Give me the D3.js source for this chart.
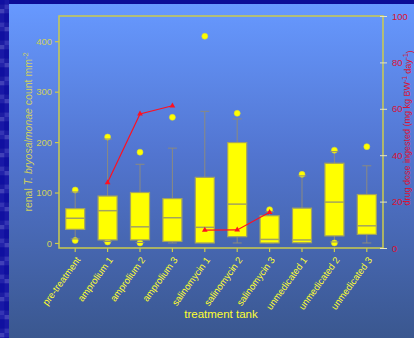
<!DOCTYPE html>
<html><head><meta charset="utf-8">
<script src="https://cdn.jsdelivr.net/npm/d3@7"></script>
<style>
html,body{margin:0;padding:0;background:#0a0a8c;}
svg{display:block;font-family:"Liberation Sans",Arial,sans-serif;}
</style></head>
<body>
<svg id="c" width="414" height="338"></svg>
<script>
// ---- data ----
const categories = ["pre-treatment","amprolium 1","amprolium 2","amprolium 3","salinomycin 1","salinomycin 2","salinomycin 3","unmedicated 1","unmedicated 2","unmedicated 3"];
const q1      = [27, 6, 6, 3, 0, 12.5, 0, 0.5, 14, 17];
const medians = [49, 64, 32, 50, 31, 77, 7, 6, 81, 34];
const q3      = [68, 93, 100, 88, 130, 199, 54, 69, 158, 96];
const whiskLo = [8, 3, 1, 0, 0, 0, 0, 0, 2, 0];
const whiskHi = [101, 206, 156, 188, 261, 246, 62, 133, 181, 153];
const dotsHi  = [105, 210, 180, 249, 410, 257, 66, 136, 184, 191];
const dotsLo  = [5, 2, 0, null, null, null, null, null, 0, null];
const amproliumCats = ["amprolium 1","amprolium 2","amprolium 3"];
const amproliumDose = [28.2, 57.8, 61.3];
const salinomycinCats = ["salinomycin 1","salinomycin 2","salinomycin 3"];
const salinomycinDose = [7.7, 7.8, 15.4];
const leftTicks = [0, 100, 200, 300, 400];
const rightTicks = [0, 20, 40, 60, 80, 100];

// ---- layout ----
const W = 414, H = 338;
const m = {left: 59, top: 16, right: 383, bottom: 248};
const FONT = "Liberation Sans, Arial, sans-serif";
const svg = d3.select("#c");
const defs = svg.append("defs");
const grad = defs.append("linearGradient").attr("id","bg").attr("x1",0).attr("y1",0).attr("x2",0).attr("y2",1);
grad.append("stop").attr("offset","0%").attr("stop-color","#6799ff");
grad.append("stop").attr("offset","45%").attr("stop-color","#5275d0");
grad.append("stop").attr("offset","100%").attr("stop-color","#3a578f");

// outer background with mosaic strips
svg.append("rect").attr("width",W).attr("height",H).attr("fill","#0c0c96");
const mosaicCols = ["#1010a0","#2222aa","#3434b4","#1818a6","#4040b8","#1c1ca4"];
const cell = 4.5;
const leftCells = [];
for (let j = 0; j < Math.ceil(H / cell); j++) for (let i = 0; i < 2; i++) leftCells.push({i, j});
svg.append("g").selectAll("rect").data(leftCells).join("rect")
  .attr("x", d => d.i * cell).attr("y", d => d.j * cell)
  .attr("width", cell + 0.2).attr("height", cell + 0.2)
  .attr("fill", d => mosaicCols[(d.j * 5 + d.i * 3 + (d.j >> 2)) % mosaicCols.length]);
// inner panel
svg.append("rect").attr("x",9).attr("y",4).attr("width",W-9).attr("height",H-4).attr("fill","url(#bg)");

// ---- scales ----
const x = d3.scaleBand().domain(categories).range([m.left, m.right]).padding(0);
const yL = d3.scaleLinear().domain([-10, 450]).range([m.bottom, m.top]);
const yR = d3.scaleLinear().domain([0, 100]).range([m.bottom, m.top]);
const cx = c => x(c) + x.bandwidth() / 2;
const boxW = 19, capW = 9;

const boxes = categories.map((c, i) => ({c, q1: q1[i], med: medians[i], q3: q3[i], lo: whiskLo[i], hi: whiskHi[i], dh: dotsHi[i], dl: dotsLo[i]}));

const g = svg.append("g");
// whiskers
g.selectAll(".wh").data(boxes).join("line").attr("class","wh")
  .attr("x1", d => cx(d.c)).attr("x2", d => cx(d.c))
  .attr("y1", d => yL(d.q3)).attr("y2", d => yL(d.hi))
  .attr("stroke","#8a8a80").attr("stroke-width",1);
g.selectAll(".wl").data(boxes).join("line").attr("class","wl")
  .attr("x1", d => cx(d.c)).attr("x2", d => cx(d.c))
  .attr("y1", d => yL(d.q1)).attr("y2", d => yL(d.lo))
  .attr("stroke","#8a8a80").attr("stroke-width",1);
// dots
const dots = [];
boxes.forEach(d => { if (d.dh != null) dots.push({c: d.c, v: d.dh}); if (d.dl != null) dots.push({c: d.c, v: d.dl}); });
g.selectAll(".dot").data(dots).join("circle").attr("class","dot")
  .attr("cx", d => cx(d.c)).attr("cy", d => yL(d.v)).attr("r", 3)
  .attr("fill","#ffff00").attr("stroke","#d8d830").attr("stroke-width",0.6);
// caps
g.selectAll(".ch").data(boxes).join("line").attr("class","ch")
  .attr("x1", d => cx(d.c) - capW/2).attr("x2", d => cx(d.c) + capW/2)
  .attr("y1", d => yL(d.hi)).attr("y2", d => yL(d.hi))
  .attr("stroke","#8a8a80").attr("stroke-width",1);
g.selectAll(".cl").data(boxes).join("line").attr("class","cl")
  .attr("x1", d => cx(d.c) - capW/2).attr("x2", d => cx(d.c) + capW/2)
  .attr("y1", d => yL(d.lo)).attr("y2", d => yL(d.lo))
  .attr("stroke","#8a8a80").attr("stroke-width",1);
// boxes
g.selectAll(".box").data(boxes).join("rect").attr("class","box")
  .attr("x", d => cx(d.c) - boxW/2).attr("width", boxW)
  .attr("y", d => yL(d.q3)).attr("height", d => yL(d.q1) - yL(d.q3))
  .attr("fill","#ffff00").attr("stroke","#a3a360").attr("stroke-width",1.2);
g.selectAll(".med").data(boxes).join("line").attr("class","med")
  .attr("x1", d => cx(d.c) - boxW/2).attr("x2", d => cx(d.c) + boxW/2)
  .attr("y1", d => yL(d.med)).attr("y2", d => yL(d.med))
  .attr("stroke","#a3a360").attr("stroke-width",1.5);

// dose lines
const doseSeries = [
  amproliumCats.map((c, i) => ({c, v: amproliumDose[i]})),
  salinomycinCats.map((c, i) => ({c, v: salinomycinDose[i]}))
];
const line = d3.line().x(d => cx(d.c)).y(d => yR(d.v));
const tri = d3.symbol().type(d3.symbolTriangle).size(14);
doseSeries.forEach(s => {
  g.append("path").datum(s).attr("d", line).attr("fill","none").attr("stroke","#ff1020").attr("stroke-width",1.2);
  g.selectAll(null).data(s).join("path")
    .attr("transform", d => `translate(${cx(d.c)},${yR(d.v)})`)
    .attr("d", tri).attr("fill","#ff1020");
});

// frame
svg.append("rect").attr("x", m.left).attr("y", m.top).attr("width", m.right - m.left).attr("height", m.bottom - m.top)
  .attr("fill","none").attr("stroke","#cccc4c").attr("stroke-width",1.5);

// left axis
const axL = svg.append("g").attr("transform",`translate(${m.left},0)`)
  .call(d3.axisLeft(yL).tickValues(leftTicks).tickSize(4).tickPadding(3));
axL.select(".domain").remove();
axL.selectAll("line").attr("stroke","#cccc4c").attr("stroke-width",1.2);
axL.selectAll("text").attr("fill","#d0d060").style("font-size","9.5px").style("font-family",FONT);

// right axis
const axR = svg.append("g").attr("transform",`translate(${m.right},0)`)
  .call(d3.axisRight(yR).tickValues(rightTicks).tickSize(4).tickPadding(5));
axR.select(".domain").remove();
axR.selectAll("line").attr("x1",-3).attr("stroke","#e8e8c0").attr("stroke-width",1);
axR.selectAll("text").attr("fill","#dd1133").style("font-size","9.5px").style("font-family",FONT);

// bottom axis
const axB = svg.append("g").attr("transform",`translate(0,${m.bottom})`)
  .call(d3.axisBottom(x).tickSize(4));
axB.select(".domain").remove();
axB.selectAll("line").attr("stroke","#cccc4c").attr("stroke-width",1.2);
axB.selectAll("text").attr("fill","#ffff30").style("font-size","9.5px").style("font-family",FONT)
  .attr("x",0).attr("y",0).attr("dy","0.35em")
  .attr("transform","translate(3,10) rotate(-54)").style("text-anchor","end");

// titles
svg.append("text").attr("x",(m.left+m.right)/2).attr("y",318).attr("text-anchor","middle")
  .attr("fill","#ffff30").style("font-size","11.5px").text("treatment tank");

const lt = svg.append("text").attr("transform",`translate(32,${(m.top+m.bottom)/2}) rotate(-90)`)
  .attr("text-anchor","middle").attr("fill","#d0d060").style("font-size","10.5px");
lt.append("tspan").text("renal ");
lt.append("tspan").style("font-style","italic").text("T. bryosalmonae");
lt.append("tspan").text(" count mm");
lt.append("tspan").attr("dy","-0.5em").style("font-size","7.5px").text("-2");

const rt = svg.append("text").attr("transform",`translate(410,128) rotate(-90)`)
  .attr("text-anchor","middle").attr("fill","#dd1133").style("font-size","9px");
rt.append("tspan").text("drug dose ingested (mg kg BW");
rt.append("tspan").attr("dy","-0.5em").style("font-size","6.5px").text("-1");
rt.append("tspan").attr("dy","0.5em").text(" day");
rt.append("tspan").attr("dy","-0.5em").style("font-size","6.5px").text("-1");
rt.append("tspan").attr("dy","0.5em").text(")");
</script>
</body></html>
